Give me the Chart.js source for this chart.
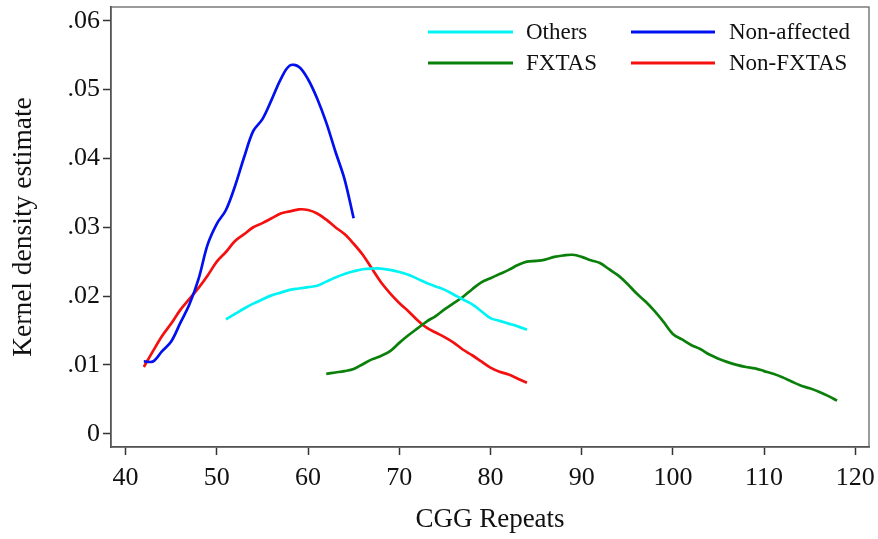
<!DOCTYPE html>
<html>
<head>
<meta charset="utf-8">
<script src="https://cdn.jsdelivr.net/npm/chart.js@4.4.1/dist/chart.umd.min.js"></script>
<style>
  html, body { margin: 0; padding: 0; background: #fff; }
  #wrap { width: 878px; height: 539px; }
</style>
</head>
<body>
<div id="wrap"><canvas id="myChart" width="878" height="539"></canvas></div>
<script>
// kernel density estimates, one value per CGG repeat
const othersStart = 51;
const othersValues = [.0166, .0174, .0182, .0189, .0195, .0201, .0205, .0209, .0211, .0213,
  .0215, .0221, .0227, .0232, .0236, .0239, .0240, .0240, .0238, .0235,
  .0231, .0225, .0219, .0214, .0209, .0202, .0195, .0188, .0178, .0168,
  .0164, .0160, .0156, .0151];

const nonAffectedStart = 42;
const nonAffectedValues = [.0105, .0105, .0120, .0134, .0161, .0188, .0225, .0275, .0305, .0325,
  .0360, .0402, .0440, .0457, .0485, .0515, .0535, .0533, .0515, .0487,
  .0452, .0410, .0370, .0313];

const fxtasStart = 62;
const fxtasValues = [.0087, .0089, .0091, .0094, .0101, .0108, .0113, .0120, .0132, .0143,
  .0153, .0163, .0171, .0181, .0190, .0199, .0210, .0220, .0226, .0232,
  .0238, .0245, .0250, .0251, .0253, .0257, .0259, .0260, .0257, .0252,
  .0248, .0239, .0230, .0218, .0204, .0192, .0178, .0162, .0145, .0137,
  .0129, .0123, .0115, .0109, .0104, .0100, .0097, .0095, .0091, .0087,
  .0082, .0076, .0070, .0066, .0061, .0055, .0048];

const nonFxtasStart = 42;
const nonFxtasValues = [.0097, .0120, .0142, .0160, .0180, .0196, .0212, .0230, .0250, .0264,
  .0280, .0290, .0300, .0306, .0313, .0320, .0323, .0326, .0325, .0320,
  .0311, .0300, .0290, .0276, .0260, .0240, .0220, .0204, .0190, .0178,
  .0165, .0154, .0147, .0140, .0132, .0122, .0114, .0105, .0096, .0090,
  .0086, .0080, .0074];

const xTicks = [40, 50, 60, 70, 80, 90, 100, 110, 120];
const yTicks = [0, .01, .02, .03, .04, .05, .06];

const toPoints = (start, vals) => vals.map((v, i) => ({x: start + i, y: v}));

const serif = "'Liberation Serif', 'Times New Roman', serif";
const axisColor = '#333';

// stata style legend: 2 columns inside the plot region
const legendPlugin = {
    id: 'stataLegend',
    afterDraw(chart) {
        const ctx = chart.ctx;
        const ds = chart.data.datasets;
        const cols = [{x0: 428, x1: 513, tx: 526}, {x0: 631, x1: 715, tx: 729}];
        const rows = [32, 63];
        ctx.save();
        ctx.font = '23px ' + serif;
        ctx.textBaseline = 'middle';
        ctx.fillStyle = '#111';
        ds.forEach((d, i) => {
            const c = cols[i % 2];
            const y = rows[Math.floor(i / 2)];
            ctx.strokeStyle = d.borderColor;
            ctx.lineWidth = 3;
            ctx.beginPath();
            ctx.moveTo(c.x0, y);
            ctx.lineTo(c.x1, y);
            ctx.stroke();
            ctx.fillText(d.label, c.tx, y + 1);
        });
        ctx.restore();
    }
};

// outline round the plot region
const framePlugin = {
    id: 'frame',
    afterDraw(chart) {
        const {ctx, chartArea: a} = chart;
        ctx.save();
        ctx.strokeStyle = '#666';
        ctx.lineWidth = 1.3;
        ctx.strokeRect(a.left, a.top, a.right - a.left, a.bottom - a.top);
        ctx.restore();
    }
};

const lineStyle = {pointRadius: 0, borderWidth: 2.7, tension: 0.35, fill: false};

new Chart(document.getElementById('myChart'), {
    type: 'line',
    data: {
        datasets: [
            {label: 'Others', data: toPoints(othersStart, othersValues), borderColor: '#00f4f4', ...lineStyle},
            {label: 'Non-affected', data: toPoints(nonAffectedStart, nonAffectedValues), borderColor: '#0010ee', ...lineStyle},
            {label: 'FXTAS', data: toPoints(fxtasStart, fxtasValues), borderColor: '#0a800a', ...lineStyle},
            {label: 'Non-FXTAS', data: toPoints(nonFxtasStart, nonFxtasValues), borderColor: '#f51010', ...lineStyle}
        ]
    },
    options: {
        responsive: false,
        animation: false,
        layout: {padding: {top: 7, right: 9, left: 0, bottom: 0}},
        plugins: {
            legend: {display: false},
            tooltip: {enabled: false}
        },
        scales: {
            x: {
                type: 'linear',
                min: 38.4,
                max: 121.5,
                afterBuildTicks: s => { s.ticks = xTicks.map(v => ({value: v})); },
                afterFit: s => { s.height = 92; s.paddingLeft = 0; s.paddingRight = 0; },
                grid: {drawOnChartArea: false, drawTicks: true, tickLength: 8, tickColor: axisColor, tickWidth: 1.5},
                border: {display: true, color: axisColor, width: 1.5},
                ticks: {color: '#111', font: {family: serif, size: 26}, padding: 8, maxRotation: 0},
                title: {display: true, text: 'CGG Repeats', color: '#111', font: {family: serif, size: 27}, padding: {bottom: 3}}
            },
            y: {
                type: 'linear',
                min: -0.00193,
                max: 0.062,
                afterBuildTicks: s => { s.ticks = yTicks.map(v => ({value: v})); },
                afterFit: s => { s.width = 111; s.paddingTop = 0; s.paddingBottom = 0; },
                grid: {drawOnChartArea: false, drawTicks: true, tickLength: 8, tickColor: axisColor, tickWidth: 1.5},
                border: {display: true, color: axisColor, width: 1.5},
                ticks: {
                    color: '#111', font: {family: serif, size: 26}, padding: 3,
                    callback: v => v === 0 ? '0' : v.toFixed(2).replace(/^0/, '')
                },
                title: {display: true, text: 'Kernel density estimate', color: '#111', font: {family: serif, size: 27.5}, padding: {top: 7}}
            }
        }
    },
    plugins: [legendPlugin, framePlugin]
});
</script>
</body>
</html>
